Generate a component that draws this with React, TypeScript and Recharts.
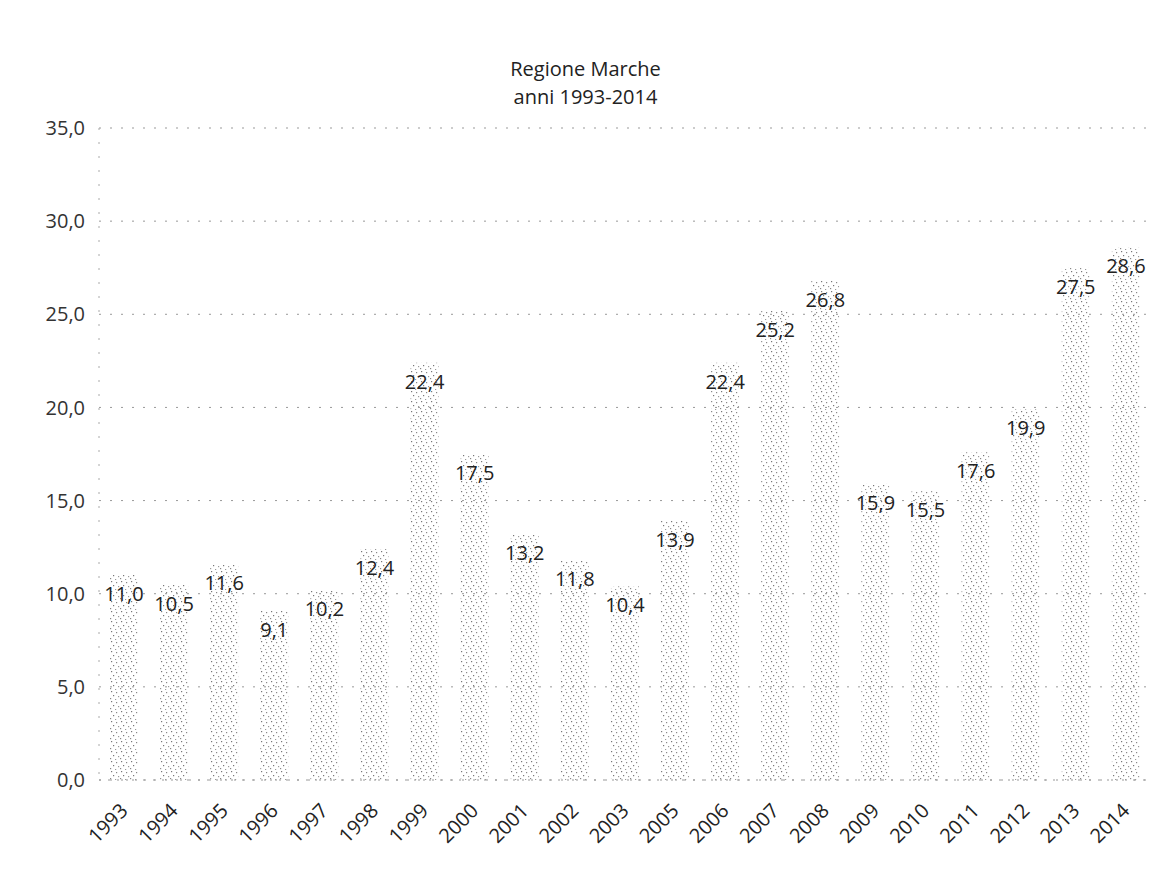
import { BarChart, Bar, XAxis, YAxis, CartesianGrid, LabelList } from "recharts";

const years = [
  "1993", "1994", "1995", "1996", "1997", "1998", "1999", "2000", "2001", "2002", "2003",
  "2005", "2006", "2007", "2008", "2009", "2010", "2011", "2012", "2013", "2014",
];
const values = [
  11.0, 10.5, 11.6, 9.1, 10.2, 12.4, 22.4, 17.5, 13.2, 11.8, 10.4,
  13.9, 22.4, 25.2, 26.8, 15.9, 15.5, 17.6, 19.9, 27.5, 28.6,
];
const yTicks = [0, 5, 10, 15, 20, 25, 30, 35];
const titleLines = ["Regione Marche", "anni 1993-2014"];

const data = years.map((year, i) => ({ year, value: values[i] }));

const FONT = "'Open Sans', 'Noto Sans', sans-serif";
const fmt = (v: number) => v.toFixed(1).replace(".", ",");

const YearTick = (props: any) => {
  const { x, y, payload } = props;
  const tx = x + 5;
  const ty = y + 24;
  return (
    <text
      x={tx}
      y={ty}
      textAnchor="end"
      fontSize={20}
      fontFamily={FONT}
      fill="#222"
      transform={`rotate(-45, ${tx}, ${ty})`}
    >
      {payload.value}
    </text>
  );
};

export default function App() {
  return (
    <div style={{ position: "absolute", left: 0, top: 0, width: 1171, height: 872, background: "#fff" }}>
      <div
        style={{
          position: "absolute",
          top: 55,
          left: 0,
          width: 1171,
          textAlign: "center",
          fontFamily: FONT,
          fontSize: 20,
          lineHeight: "28px",
          color: "#222",
        }}
      >
        {titleLines.map((t) => (
          <div key={t}>{t}</div>
        ))}
      </div>
      <BarChart
        width={1171}
        height={872}
        data={data}
        margin={{ top: 128, right: 20, bottom: 0, left: 0 }}
        barSize={28}
      >
        <defs>
          {/* sparse grey stipple like the scanned fill */}
          <pattern id="stipple" width="10" height="10" patternUnits="userSpaceOnUse">
            <rect x="1" y="1" width="1.2" height="1.2" fill="#777" />
            <rect x="6" y="2" width="1.2" height="1.2" fill="#888" />
            <rect x="3" y="5" width="1.2" height="1.2" fill="#777" />
            <rect x="8" y="6" width="1.2" height="1.2" fill="#999" />
            <rect x="0" y="8" width="1.2" height="1.2" fill="#888" />
            <rect x="5" y="9" width="1.2" height="1.2" fill="#999" />
          </pattern>
        </defs>
        <CartesianGrid vertical={false} stroke="#999" strokeDasharray="2 9" />
        <XAxis
          dataKey="year"
          interval={0}
          tick={<YearTick />}
          tickLine={false}
          axisLine={{ stroke: "#999", strokeDasharray: "2 7" }}
          height={92}
        />
        <YAxis
          domain={[0, 35]}
          ticks={yTicks}
          tickFormatter={fmt}
          width={99}
          tickLine={false}
          axisLine={{ stroke: "#aaa", strokeDasharray: "2 12" }}
          tick={{ fontSize: 20, fontFamily: FONT, fill: "#333" }}
          tickMargin={8}
        />
        <Bar dataKey="value" fill="url(#stipple)" isAnimationActive={false}>
          <LabelList
            dataKey="value"
            position="insideTop"
            offset={12}
            formatter={(v: any) => fmt(Number(v))}
            style={{ fontSize: 20, fontFamily: FONT, fill: "#222" }}
          />
        </Bar>
      </BarChart>
    </div>
  );
}
